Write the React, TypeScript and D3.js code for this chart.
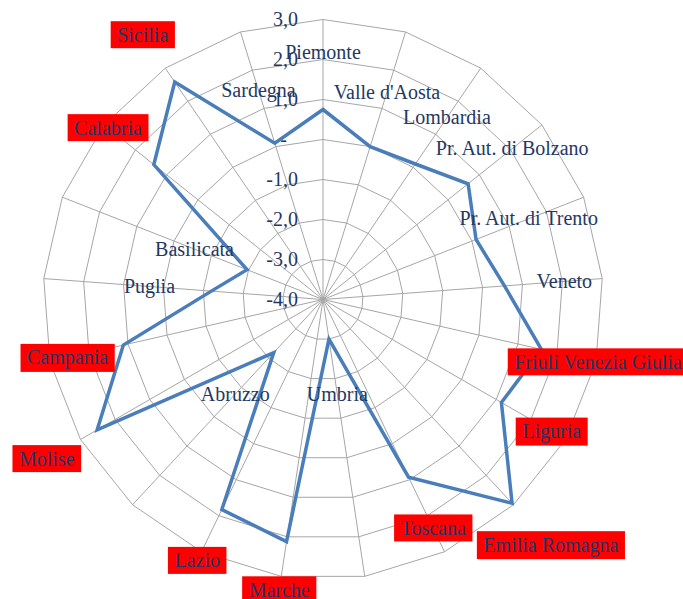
import React, { useEffect, useRef } from "react"
import * as d3 from "d3"

// regions, clockwise from the top
const regions = [
    "Piemonte", "Valle d'Aosta", "Lombardia", "Pr. Aut. di Bolzano", "Pr. Aut. di Trento",
    "Veneto", "Friuli Venezia Giulia", "Liguria", "Emilia Romagna", "Toscana", "Umbria",
    "Marche", "Lazio", "Abruzzo", "Molise", "Campania", "Puglia", "Basilicata",
    "Calabria", "Sicilia", "Sardegna",
]
const values = [
    0.75, 0.0, 0.1, 0.64, 0.11, 0.55, 1.6, 1.15, 2.95, 0.93, -3.0,
    2.12, 1.83, -2.19, 2.52, 1.12, -1.2, -1.96, 1.41, 2.58, 0.09,
]
const ticks = [-4, -3, -2, -1, 0, 1, 2, 3]
const highlighted = [
    "Friuli Venezia Giulia", "Liguria", "Emilia Romagna", "Toscana", "Marche",
    "Lazio", "Molise", "Campania", "Calabria", "Sicilia",
]

// layout
const W = 683
const H = 599
const cx = 323
const cy = 299.5
const R = 280
// how far from the centre each region label sits (px)
const labelDist = [247, 217, 220, 242, 221, 242, 282, 264, 335, 254, 96, 294, 290, 129, 319, 262, 174, 138, 275, 320, 219]

const textColor = "#1f3864"
const font = "'Liberation Serif', 'Times New Roman', serif"

// italian style numbers: comma decimal, plain hyphen minus
const itLocale = d3.formatLocale({ decimal: ",", thousands: ".", grouping: [3], currency: ["", " €"], minus: "-" })
const fmt1 = itLocale.format(".1f")

export default function App() {
    const ref = useRef<SVGGElement>(null)

    useEffect(() => {
        const g = d3.select(ref.current)
        g.selectAll("*").remove()

        const n = regions.length
        const step = (2 * Math.PI) / n
        const r = d3.scaleLinear().domain([-4, 3]).range([0, R])

        const ring = d3.lineRadial<number>()
            .angle((d, i) => i * step)
            .radius(d => r(d))
            .curve(d3.curveLinearClosed)

        // grid rings
        g.selectAll("path.ring")
            .data(ticks.filter(t => t > -4))
            .join("path")
            .attr("class", "ring")
            .attr("d", t => ring(regions.map(() => t)))
            .attr("fill", "none")
            .attr("stroke", "#a6a6a6")
            .attr("stroke-width", 1)

        // spokes
        g.selectAll("line.spoke")
            .data(regions)
            .join("line")
            .attr("class", "spoke")
            .attr("x1", 0)
            .attr("y1", 0)
            .attr("x2", (d, i) => Math.sin(i * step) * R)
            .attr("y2", (d, i) => -Math.cos(i * step) * R)
            .attr("stroke", "#a6a6a6")
            .attr("stroke-width", 1)

        // tick labels
        const fmt = (t: number) => (t === 0 ? "-" : fmt1(t))
        g.selectAll("text.tick")
            .data(ticks)
            .join("text")
            .attr("class", "tick")
            .attr("x", t => (t === 0 ? -36 : -25))
            .attr("y", t => -r(t))
            .attr("dy", "0.33em")
            .attr("text-anchor", "end")
            .style("font-family", font)
            .style("font-size", "20px")
            .style("fill", textColor)
            .text(fmt)

        // data line
        g.append("path")
            .attr("d", ring(values))
            .attr("fill", "none")
            .attr("stroke", "#4a7ebb")
            .attr("stroke-width", 3.5)
            .attr("stroke-linejoin", "miter")

        // region labels
        const labels = g.selectAll("g.lab")
            .data(regions)
            .join("g")
            .attr("class", "lab")
            .attr("transform", (d, i) => {
                const a = i * step
                return `translate(${Math.sin(a) * labelDist[i]},${-Math.cos(a) * labelDist[i]})`
            })

        labels.each(function (d) {
            const lg = d3.select(this)
            const txt = lg.append("text")
                .attr("text-anchor", "middle")
                .attr("dy", "0.33em")
                .style("font-family", font)
                .style("font-size", "20px")
                .style("fill", textColor)
                .text(d)
            if (highlighted.includes(d)) {
                const bb = (txt.node() as SVGTextElement).getBBox()
                lg.insert("rect", "text")
                    .attr("x", bb.x - 6.5)
                    .attr("y", bb.y - 2.5)
                    .attr("width", bb.width + 13)
                    .attr("height", bb.height + 5)
                    .attr("fill", "#ff0000")
            }
        })
    }, [])

    return (
        <div style={{ position: "absolute", left: 0, top: 0 }}>
            <svg width={W} height={H} style={{ display: "block", background: "white" }}>
                <g ref={ref} transform={`translate(${cx} ${cy})`} />
            </svg>
        </div>
    )
}
